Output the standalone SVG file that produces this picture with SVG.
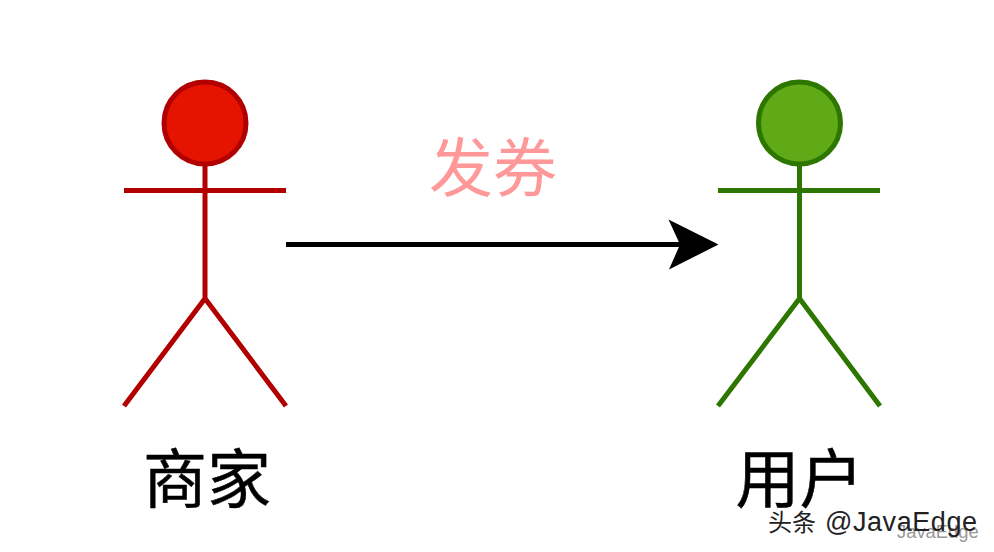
<svg xmlns="http://www.w3.org/2000/svg" width="994" height="552" viewBox="0 0 994 552">
<style>
.a{fill:none;stroke-width:5}
.r{stroke:#b20000}
.g{stroke:#2d7600}
.cjk{font-family:"Noto Sans CJK SC","Liberation Sans",sans-serif}
.lat{font-family:"Liberation Sans",sans-serif}
.t{font-size:64px;fill:#000;text-anchor:middle;stroke:#000;stroke-width:.5px}
</style>
<rect width="994" height="552" fill="#fff"/>
<g id="merchant">
<circle cx="205" cy="123" r="41" fill="#e51400" stroke="#b20000" stroke-width="5"/>
<path class="a r" d="M205 164V298.500M124 190.500H286M205 298.500L124 406M205 298.500L286 406"/>
<text class="t cjk" x="207" y="502">商家</text>
</g>
<g id="user">
<circle cx="799.500" cy="123" r="41" fill="#60a917" stroke="#2d7600" stroke-width="5"/>
<path class="a g" d="M799.500 164V298.500M718 190.500H880M799.500 298.500L718 406M799.500 298.500L880 406"/>
<text class="t cjk" x="799.500" y="502">用户</text>
</g>
<g id="connectors">
<path d="M286 244.500H680" fill="none" stroke="#000" stroke-width="5"/>
<path d="M718.500 244.500L668.500 219.500L680 244.500L669 269.500Z" fill="#000"/>
</g>
<g id="label">
<text class="cjk" x="493" y="191" font-size="64" fill="#ff9999" text-anchor="middle">发券</text>
</g>
<g id="watermark">
<text class="lat" x="897" y="538" font-size="18.400" fill="#999">JavaEdge</text>
<text class="cjk" x="768" y="531" font-size="24" fill="#222">头条</text>
<text class="lat" x="825" y="531" font-size="27" fill="#222" textLength="152">@JavaEdge</text>
</g>
</svg>
